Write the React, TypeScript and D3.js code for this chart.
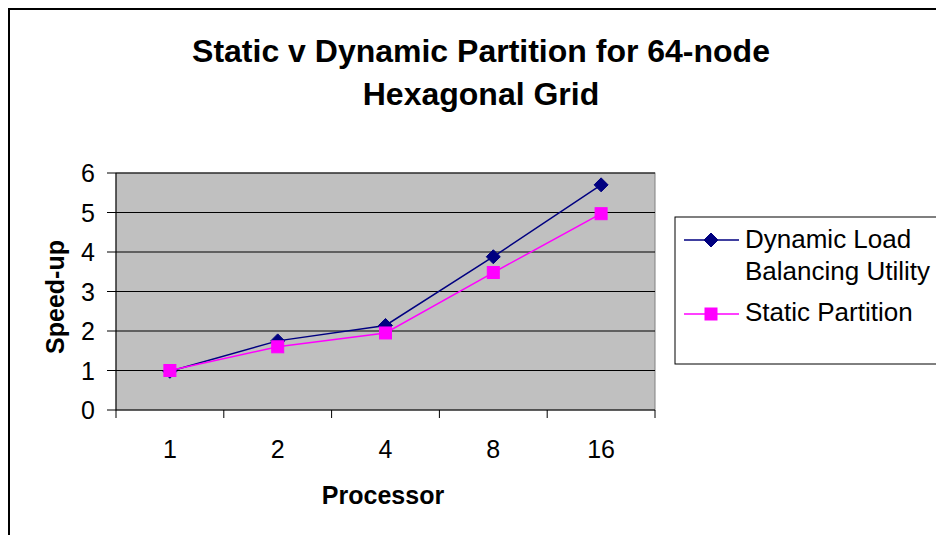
import React from "react";
import * as d3 from "d3";

const categories: string[] = ["1", "2", "4", "8", "16"];
const dynamicValues: number[] = [0.98, 1.75, 2.14, 3.88, 5.7];
const staticValues: number[] = [1.0, 1.6, 1.95, 3.48, 4.97];
const yTicks: number[] = [0, 1, 2, 3, 4, 5, 6];
const titleLines: string[] = ["Static v Dynamic Partition for 64-node", "Hexagonal Grid"];
const seriesNames: string[][] = [["Dynamic Load", "Balancing Utility"], ["Static Partition"]];

const FONT = "'Liberation Sans', Arial, Helvetica, sans-serif";

export default function App() {
  const W = 936;
  const H = 535;
  const plot = { left: 116, right: 655, top: 173, bottom: 410 };

  const x = d3.scaleBand<string>().domain(categories).range([plot.left, plot.right]).padding(0);
  const y = d3.scaleLinear().domain([0, 6]).range([plot.bottom, plot.top]);
  const cx = (c: string) => (x(c) as number) + x.bandwidth() / 2;

  const line = d3
    .line<number>()
    .x((_, i) => cx(categories[i]))
    .y((d) => y(d));

  const boundaries = categories.map((c) => x(c) as number).concat([plot.right]);

  const diamond = (px: number, py: number, r: number) =>
    `M${px},${py - r}L${px + r},${py}L${px},${py + r}L${px - r},${py}Z`;

  const legend = { x: 675, y: 217, w: 275, h: 147 };
  const legLineX1 = 684;
  const legLineX2 = 739;
  const legMarkX = 711;

  return (
    <svg
      width={W}
      height={H}
      style={{ position: "absolute", left: 0, top: 0, background: "#fff" }}
      fontFamily={FONT}
    >
      <rect x={0} y={0} width={W} height={H} fill="#fff" />
      {/* outer chart border */}
      <rect x={9} y={9} width={W + 20} height={H + 20} fill="none" stroke="#000" strokeWidth={2} />

      {/* title */}
      {titleLines.map((t, i) => (
        <text
          key={t}
          x={481}
          y={62 + i * 43}
          textAnchor="middle"
          fontSize={32}
          fontWeight="bold"
          fill="#000"
        >
          {t}
        </text>
      ))}

      {/* plot area */}
      <rect
        x={plot.left}
        y={plot.top}
        width={plot.right - plot.left}
        height={plot.bottom - plot.top}
        fill="#c0c0c0"
        stroke="#808080"
        strokeWidth={1}
      />
      {yTicks
        .filter((t) => t > 0)
        .map((t) => (
          <line
            key={"g" + t}
            x1={plot.left}
            x2={plot.right}
            y1={y(t)}
            y2={y(t)}
            stroke="#000"
            strokeWidth={1}
          />
        ))}

      {/* y axis */}
      <line x1={plot.left} x2={plot.left} y1={plot.top} y2={plot.bottom} stroke="#000" strokeWidth={1} />
      {yTicks.map((t) => (
        <g key={"yt" + t}>
          <line x1={plot.left - 9} x2={plot.left} y1={y(t)} y2={y(t)} stroke="#000" strokeWidth={1} />
          <text x={plot.left - 21} y={y(t) + 9} textAnchor="end" fontSize={25} fill="#000">
            {t}
          </text>
        </g>
      ))}

      {/* x axis */}
      <line x1={plot.left} x2={plot.right} y1={plot.bottom} y2={plot.bottom} stroke="#000" strokeWidth={1} />
      {boundaries.map((b, i) => (
        <line key={"xt" + i} x1={b} x2={b} y1={plot.bottom} y2={plot.bottom + 8} stroke="#000" strokeWidth={1} />
      ))}
      {categories.map((c) => (
        <text key={"xl" + c} x={cx(c)} y={458} textAnchor="middle" fontSize={25} fill="#000">
          {c}
        </text>
      ))}

      {/* axis titles */}
      <text x={383} y={504} textAnchor="middle" fontSize={25} fontWeight="bold" fill="#000">
        Processor
      </text>
      <text
        transform={`translate(64,297) rotate(-90)`}
        textAnchor="middle"
        fontSize={25}
        fontWeight="bold"
        fill="#000"
      >
        Speed-up
      </text>

      {/* series */}
      <path d={line(dynamicValues) || ""} fill="none" stroke="#000080" strokeWidth={1.5} />
      <path d={line(staticValues) || ""} fill="none" stroke="#ff00ff" strokeWidth={1.5} />
      {dynamicValues.map((v, i) => (
        <path key={"dm" + i} d={diamond(cx(categories[i]), y(v), 7)} fill="#000080" stroke="#000080" />
      ))}
      {staticValues.map((v, i) => (
        <rect
          key={"sm" + i}
          x={cx(categories[i]) - 6}
          y={y(v) - 6}
          width={12}
          height={12}
          fill="#ff00ff"
          stroke="#ff00ff"
        />
      ))}

      {/* legend */}
      <rect x={legend.x} y={legend.y} width={legend.w} height={legend.h} fill="#fff" stroke="#000" strokeWidth={1} />
      <line x1={legLineX1} x2={legLineX2} y1={240} y2={240} stroke="#000080" strokeWidth={1.5} />
      <path d={diamond(legMarkX, 240, 7)} fill="#000080" stroke="#000080" />
      {seriesNames[0].map((s, i) => (
        <text key={s} x={745} y={248 + i * 32} fontSize={26} fill="#000">
          {s}
        </text>
      ))}
      <line x1={legLineX1} x2={legLineX2} y1={314} y2={314} stroke="#ff00ff" strokeWidth={1.5} />
      <rect x={legMarkX - 6} y={314 - 6} width={12} height={12} fill="#ff00ff" stroke="#ff00ff" />
      <text x={745} y={321} fontSize={26} fill="#000">
        {seriesNames[1][0]}
      </text>
    </svg>
  );
}
